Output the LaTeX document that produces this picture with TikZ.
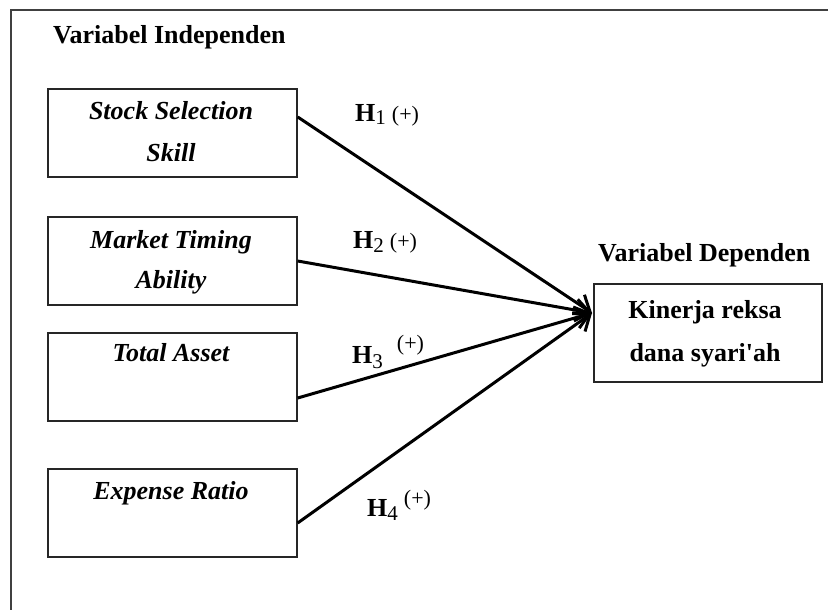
\documentclass[tikz,border=0pt]{standalone}
\usepackage{fontspec}
\setmainfont{Liberation Serif}
\usetikzlibrary{arrows.meta}
\newcommand{\fsz}[1]{\fontsize{#1}{#1}\selectfont}
\begin{document}
\begin{tikzpicture}[x=1pt,y=-1pt,
  box/.style={draw=black!85,line width=1.4pt,minimum width=249pt,minimum height=88pt,inner sep=0pt},
  head/.style={font=\fsz{26}\bfseries,inner sep=0pt,anchor=base west},
  itl/.style={font=\fsz{26}\bfseries\itshape,inner sep=0pt,anchor=base},
  bld/.style={font=\fsz{26}\bfseries,inner sep=0pt,anchor=base},
  hyp/.style={font=\fsz{26}\bfseries,inner sep=0pt,anchor=base west},
  conn/.style={line width=3pt,-{Straight Barb[length=14pt,width=22pt,line width=3pt]}}
]
\useasboundingbox (0,0) rectangle (828,610);
\draw[line width=2pt,black!75] (11,610) -- (11,10) -- (828,10);

% headers
\node[head] (hi) at (53,44) {Variabel Independen};
\node[head] (hd) at (598,261) {Variabel Dependen};

% independent boxes
\node[box] (s1) at (172.5,133) {};
\node[box] (s2) at (172.5,261) {};
\node[box] (s3) at (172.5,377) {};
\node[box] (s4) at (172.5,513) {};
\node[itl] (t1a) at (171,120) {Stock Selection};
\node[itl] (t1b) at (171,161) {Skill};
\node[itl] (t2a) at (171,248) {Market Timing};
\node[itl] (t2b) at (171,288) {Ability};
\node[itl] (t3a) at (171,361) {Total Asset};
\node[itl] (t4a) at (171,499) {Expense Ratio};

% dependent box
\node[box,minimum width=228pt,minimum height=98pt] (k) at (708,333) {};
\node[bld] (ka) at (705,318) {Kinerja reksa};
\node[bld] (kb) at (705,361) {dana syari\textquotesingle ah};

% arrows
\coordinate (tip) at (592,313);
\draw[conn] ([yshift=16pt]s1.east) -- (tip);
\draw[conn] (s2.east) -- (tip);
\draw[conn] ([yshift=-21pt]s3.east) -- (tip);
\draw[conn] ([yshift=-10pt]s4.east) -- (tip);

% hypothesis labels
\node[hyp] (h1) at (355,121.5) {H\raisebox{-3pt}{\fsz{21}\mdseries 1}\hspace{6pt}{\fsz{22}\mdseries (+)}};
\node[hyp] (h2) at (353,248.5) {H\raisebox{-4pt}{\fsz{21}\mdseries 2}\hspace{6pt}{\fsz{22}\mdseries (+)}};
\node[hyp] (h3) at (352,363.5) {H\raisebox{-5pt}{\fsz{21}\mdseries 3}\hspace{14pt}\raisebox{13pt}{\fsz{22}\mdseries (+)}};
\node[hyp] (h4) at (367,516) {H\raisebox{-4pt}{\fsz{21}\mdseries 4}\hspace{6pt}\raisebox{11pt}{\fsz{22}\mdseries (+)}};
\end{tikzpicture}
\end{document}
